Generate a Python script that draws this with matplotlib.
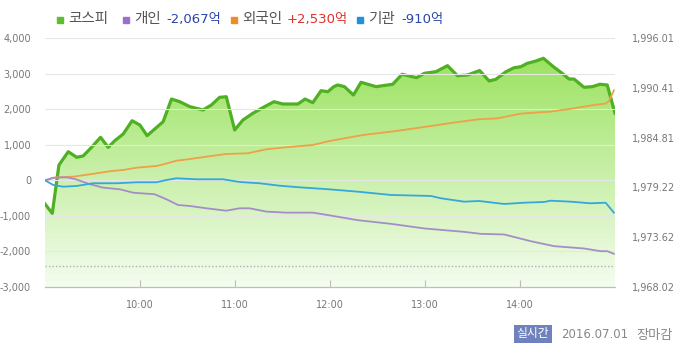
import numpy as np
import matplotlib.pyplot as plt
from matplotlib.patches import Rectangle

# Latin text in DejaVu, Korean glyphs fall back to Noto Sans CJK KR
plt.rcParams['font.family'] = ['DejaVu Sans', 'Noto Sans CJK KR']

# minutes after 9:00 and values
kospi_t = [0, 4.6, 8.8, 14.7, 20.0, 24.1, 29.4, 35.1, 39.9, 44.1, 49.4, 55.0, 59.9,
           64.5, 69.3, 74.6, 79.9, 85.1, 91.5, 99.8, 105.1, 110.3, 114.5, 119.8,
           125.0, 131.3, 138.7, 144.6, 150.2, 159.7, 164.3, 169.1, 174.4, 178.6,
           182.4, 184.9, 189.1, 194.8, 199.6, 209.1, 219.6, 225.5, 234.7, 239.6,
           246.9, 254.2, 260.5, 266.8, 274.5, 280.5, 284.8, 291.1, 296.3, 300.5,
           304.7, 310.0, 314.8, 321.1, 326.1, 331.0, 334.1, 340.4, 345.7, 350.5,
           355.1, 360]
kospi = [1977.35, 1976.30, 1981.73, 1983.23, 1982.60, 1982.75, 1983.72, 1984.85,
         1983.72, 1984.47, 1985.22, 1986.71, 1986.23, 1985.03, 1985.78, 1986.60,
         1989.15, 1988.85, 1988.29, 1987.92, 1988.48, 1989.34, 1989.41, 1985.67,
         1986.79, 1987.55, 1988.29, 1988.85, 1988.59, 1988.59, 1989.15, 1988.74,
         1990.09, 1989.97, 1990.54, 1990.73, 1990.54, 1989.60, 1991.03, 1990.54,
         1990.81, 1991.93, 1991.55, 1992.04, 1992.22, 1992.90, 1991.77, 1991.85,
         1992.35, 1991.18, 1991.37, 1992.22, 1992.67, 1992.78, 1993.17, 1993.42,
         1993.73, 1992.78, 1992.11, 1991.40, 1991.40, 1990.47, 1990.54, 1990.81,
         1990.73, 1987.55]
prev_close = 1970.35

foreign_t = [0, 7.4, 17.8, 28.4, 42.1, 49.4, 57.8, 70.4, 75.6, 83.0, 90.3, 101.9,
             114.5, 128.1, 139.7, 152.3, 169.1, 179.7, 200.7, 221.7, 240.6, 259.5,
             273.8, 285.8, 300.5, 319.4, 334.1, 346.7, 354.1, 356.2, 359.3]
foreign = [0, 84, 101, 169, 261, 290, 354, 402, 458, 551, 590, 664, 739, 759, 872,
           928, 993, 1104, 1273, 1385, 1506, 1630, 1714, 1742, 1874, 1931, 2024,
           2117, 2156, 2230, 2530]

indiv_t = [0, 5.2, 13.7, 18.9, 28.4, 36.8, 47.3, 55.7, 69.3, 76.7, 84.0, 91.4,
           101.9, 114.5, 122.9, 129.2, 139.7, 152.3, 169.1, 179.2, 197.5, 218.6,
           239.6, 264.8, 275.3, 290.0, 306.8, 321.5, 340.4, 350.9, 355.1, 359.3]
indiv = [0, 73, 84, 37, -112, -208, -253, -349, -393, -534, -694, -722, -787,
         -855, -787, -787, -880, -909, -909, -982, -1121, -1225, -1354, -1450,
         -1506, -1523, -1712, -1852, -1917, -1993, -1993, -2067]

inst_t = [0, 5.2, 11.5, 19.9, 30.4, 45.1, 57.7, 70.4, 76.7, 83.0, 95.6, 101.9,
          112.4, 122.9, 135.5, 148.1, 160.7, 179.2, 197.5, 218.6, 243.8, 250.1,
          264.8, 274.2, 290.0, 302.6, 315.2, 319.4, 332.0, 344.6, 354.1, 359.3]
inst = [0, -132, -180, -160, -84, -84, -56, -56, 8, 56, 28, 28, 28, -48, -84,
        -152, -197, -253, -320, -413, -441, -506, -601, -582, -666, -630, -610,
        -574, -601, -647, -630, -910]

hour_ticks = [60, 120, 180, 240, 300]
hour_labels = ['10:00', '11:00', '12:00', '13:00', '14:00']
left_ticks = [-3000, -2000, -1000, 0, 1000, 2000, 3000, 4000]
right_ticks = [1968.02, 1973.62, 1979.22, 1984.81, 1990.41, 1996.01]

fig = plt.figure(figsize=(7, 3.62), dpi=100)
ax = fig.add_axes([45 / 700, 75 / 362, 570 / 700, 249 / 362])
ax2 = ax.twinx()

# KOSPI on the base axes (labels on the right)
ax.set_xlim(0, 360)
ax.set_ylim(right_ticks[0], right_ticks[-1])
ax.set_yticks(right_ticks)
ax.set_yticklabels(['{:,.2f}'.format(v) for v in right_ticks])

# gradient fill under the KOSPI line
grad = np.linspace(0, 1, 256).reshape(-1, 1)
top = np.array([0.58, 0.88, 0.33])
bot = np.array([0.96, 0.99, 0.94])
img = top * (1 - grad[..., None]) + bot * grad[..., None]
img = img.reshape(256, 1, 3)
fill = ax.fill_between(kospi_t, kospi, right_ticks[0], color='none')
im = ax.imshow(img, aspect='auto', extent=[0, 360, right_ticks[0], right_ticks[-1]],
               origin='upper', zorder=1)
im.set_clip_path(fill.get_paths()[0], transform=ax.transData)
ax.set_xlim(0, 360)
ax.set_ylim(right_ticks[0], right_ticks[-1])
ax.axhline(prev_close, color='#b0b0b0', lw=1, ls=(0, (1, 1.5)), zorder=2)
ax.plot(kospi_t, kospi, color='#50b024', lw=2.3, zorder=3, solid_joinstyle='round')

# investor flows on the twin axes (labels on the left)
ax2.set_ylim(-3000, 4000)
ax2.set_yticks(left_ticks)
ax2.set_yticklabels(['{:,}'.format(v) for v in left_ticks])
ax2.set_xlim(0, 360)
ax2.set_xticks(hour_ticks)
ax2.grid(True, color='#e6e6e6', lw=0.8, zorder=0)
ax2.plot(foreign_t, foreign, color='#f0a048', lw=1.3)
ax2.plot(indiv_t, indiv, color='#a48ec8', lw=1.3)
ax2.plot(inst_t, inst, color='#35a7db', lw=1.3)

ax.set_xticks(hour_ticks)
ax.set_xticklabels(hour_labels)
for a in (ax, ax2):
    for s in ['top', 'left', 'right']:
        a.spines[s].set_visible(False)
    a.spines['bottom'].set_color('#bdbdbd')
tick_col = '#777777'
ax.tick_params(axis='x', direction='in', length=5, color='#bdbdbd',
               labelsize=7, labelcolor=tick_col, pad=9)
ax.tick_params(axis='y', length=0, labelsize=7, labelcolor=tick_col, pad=12,
               left=False, labelleft=False, right=True, labelright=True)
ax2.tick_params(axis='y', length=0, labelsize=7, labelcolor=tick_col, pad=10,
                right=False, labelright=False, left=True, labelleft=True)
ax2.tick_params(axis='x', length=0, labelbottom=False)

# legend across the top
def px(x, y):
    return x / 700, 1 - y / 362

legend = [
    (57, '#5cbf2e', '코스피', None, None),
    (123, '#9a6fcf', '개인', 166, '-2,067억'),
    (231, '#f08c24', '외국인', 287, '+2,530억'),
    (357, '#1f92dc', '기관', 401, '-910억'),
]
val_colors = {'개인': '#2b45a8', '외국인': '#e0302a', '기관': '#2b45a8'}
for sx, col, name, vx, val in legend:
    fig.patches.append(Rectangle(px(sx, 23), 6 / 700, 6 / 362, color=col,
                                 transform=fig.transFigure))
    fig.text(*px(sx + 11, 19), name, fontsize=10.5, color='#555555', va='center')
    if val:
        fig.text(*px(vx, 19), val, fontsize=9.5, color=val_colors[name], va='center')

# footer
fig.text(*px(533, 334), '실시간', fontsize=8.5, color='white', ha='center', va='center',
         bbox=dict(boxstyle='square,pad=0.25', fc='#6f82bd', ec='none'))
fig.text(*px(561, 334), '2016.07.01', fontsize=8.5, color='#888888', va='center')
fig.text(*px(636, 335), '장마감', fontsize=9.5, color='#888888', va='center')

fig.savefig('out.png', dpi=100)
